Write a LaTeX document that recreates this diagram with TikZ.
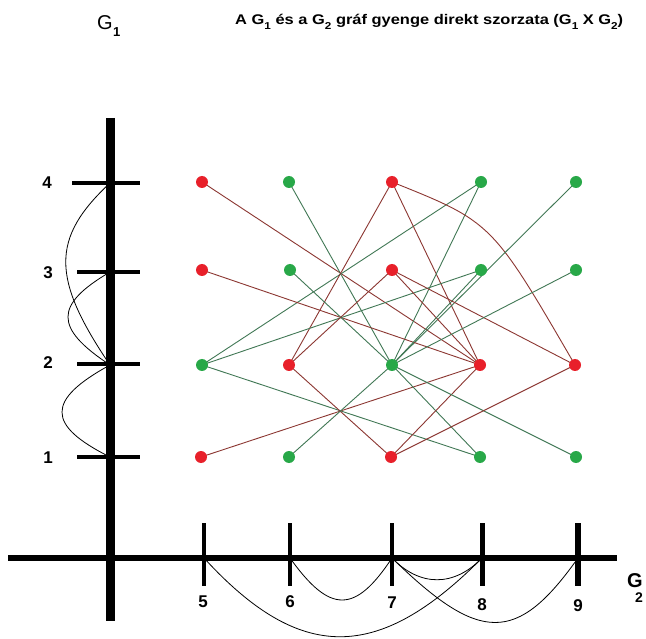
\documentclass[tikz,border=0pt]{standalone}
\usepackage{fontspec}
\setmainfont{Liberation Sans}
\usetikzlibrary{backgrounds}
\definecolor{dotred}{RGB}{232,32,42}
\definecolor{dotgreen}{RGB}{40,168,72}
\definecolor{edgered}{RGB}{140,55,50}
\definecolor{edgegreen}{RGB}{65,120,85}
\newcommand\tsub[1]{\raisebox{-5pt}{\fontsize{10}{10}\selectfont #1}}
\begin{document}
\begin{tikzpicture}[x=1pt,y=-1pt,
  rdot/.style={circle,fill=dotred,inner sep=0pt,minimum size=12pt},
  gdot/.style={circle,fill=dotgreen,inner sep=0pt,minimum size=12pt},
  redge/.style={draw=edgered,line width=0.9pt},
  gedge/.style={draw=edgegreen,line width=0.9pt},
  gcurve/.style={draw=black,line width=0.8pt},
  axisv/.style={draw=black,line width=9pt},
  axish/.style={draw=black,line width=6pt},
  tick/.style={draw=black,line width=4.5pt},
  numlab/.style={font=\fontsize{17}{17}\selectfont\bfseries,inner sep=0pt}
]
\useasboundingbox (0,0) rectangle (646,639);
\begin{pgfonlayer}{background}
\fill[white] (0,0) rectangle (646,639);
\end{pgfonlayer}

% axis vertices
\coordinate (v4) at (110,183);
\coordinate (v3) at (110,272);
\coordinate (v2) at (110,365);
\coordinate (v1) at (110,457);
\coordinate (h5) at (204,558);
\coordinate (h6) at (290,558);
\coordinate (h7) at (392,558);
\coordinate (h8) at (482,558);
\coordinate (h9) at (578,558);

% G1 edges
\draw[gcurve] (v4) .. controls (51,238) and (51,278) .. (v2);
\draw[gcurve] (v3) .. controls (54,305) and (54,328) .. (v2);
\draw[gcurve] (v2) .. controls (46,400) and (46,425) .. (v1);
% G2 edges
\draw[gcurve] (h5) .. controls (300,663) and (378,663) .. (h8);
\draw[gcurve] (h6) .. controls (330,614) and (355,614) .. (h7);
\draw[gcurve] (h7) .. controls (420,587) and (454,587) .. (h8);
\draw[gcurve] (h7) .. controls (480,644) and (517,644) .. (h9);

% axes
\coordinate (vtop) at (110,118);
\coordinate (vbot) at (110,621);
\coordinate (hl) at (8,558);
\coordinate (hr) at (617,558);
\draw[axisv] (vtop) -- (vbot);
\draw[axish] (hl) -- (hr);
\draw[tick] (72,183) -- (140,183);
\draw[tick] (77,272) -- (140,272);
\draw[tick] (77,364) -- (140,364);
\draw[tick] (77,457) -- (140,457);
\draw[tick] (204,523) -- (204,586);
\draw[tick] (290,523) -- (290,586);
\draw[tick] (392,523) -- (392,586);
\draw[tick,line width=5pt] (482,523) -- (482,586);
\draw[tick,line width=6.5pt] (578,523) -- (578,586);

% axis labels
\node[numlab] (l4) at (47,183) {4};
\node[numlab] (l3) at (48,273) {3};
\node[numlab] (l2) at (48,363) {2};
\node[numlab] (l1) at (48,458) {1};
\node[numlab] (l5) at (203,602) {5};
\node[numlab] (l6) at (290,602) {6};
\node[numlab] (l7) at (392,603) {7};
\node[numlab] (l8) at (482,605) {8};
\node[numlab] (l9) at (578,606) {9};

% graph labels
\node[anchor=base west,inner sep=0pt,font=\fontsize{20}{20}\selectfont] (g1) at (97,30) {G};
\node[anchor=base west,inner sep=0pt,font=\fontsize{13}{13}\selectfont\bfseries] (g1s) at (113,37) {1};
\node[anchor=base west,inner sep=0pt,font=\fontsize{20}{20}\selectfont\bfseries] (g2) at (627,587) {G};
\node[anchor=base west,inner sep=0pt,font=\fontsize{14}{14}\selectfont\bfseries] (g2s) at (635,602) {2};

% title
\node[anchor=base west,inner sep=0pt,font=\fontsize{14}{14}\selectfont\bfseries] (title) at (235,25)
  {\resizebox{388pt}{\height}{A G\tsub{1} és a G\tsub{2} gráf gyenge direkt szorzata (G\tsub{1} X G\tsub{2})}};

% product vertices
\node[rdot] (p45) at (202,182) {};
\node[gdot] (p46) at (289,182) {};
\node[rdot] (p47) at (392,182) {};
\node[gdot] (p48) at (481,182) {};
\node[gdot] (p49) at (576,182) {};
\node[rdot] (p35) at (202,270) {};
\node[gdot] (p36) at (290,270) {};
\node[rdot] (p37) at (392,270) {};
\node[gdot] (p38) at (481,270) {};
\node[gdot] (p39) at (576,270) {};
\node[gdot] (p25) at (202,365) {};
\node[rdot] (p26) at (289,365) {};
\node[gdot] (p27) at (392,365) {};
\node[rdot] (p28) at (480,365) {};
\node[rdot] (p29) at (575,365) {};
\node[rdot] (p15) at (201,457) {};
\node[gdot] (p16) at (289,457) {};
\node[rdot] (p17) at (391,457) {};
\node[gdot] (p18) at (480,457) {};
\node[gdot] (p19) at (576,457) {};

\begin{pgfonlayer}{background}
% 4-2
\draw[redge] (p45.center) -- (p28.center);
\draw[gedge] (p48.center) -- (p25.center);
\draw[gedge] (p46.center) -- (p27.center);
\draw[redge] (p47.center) -- (p26.center);
\draw[redge] (p47.center) -- (p28.center);
\draw[gedge] (p48.center) -- (p27.center);
\draw[redge] (p47.center) .. controls (492,222) .. (p29.center);
\draw[gedge] (p49.center) -- (p27.center);
% 3-2
\draw[redge] (p35.center) -- (p28.center);
\draw[gedge] (p38.center) -- (p25.center);
\draw[gedge] (p36.center) -- (p27.center);
\draw[redge] (p37.center) -- (p26.center);
\draw[redge] (p37.center) -- (p28.center);
\draw[gedge] (p38.center) -- (p27.center);
\draw[redge] (p37.center) -- (p29.center);
\draw[gedge] (p39.center) -- (p27.center);
% 2-1
\draw[gedge] (p25.center) -- (p18.center);
\draw[redge] (p28.center) -- (p15.center);
\draw[redge] (p26.center) -- (p17.center);
\draw[gedge] (p27.center) -- (p16.center);
\draw[gedge] (p27.center) -- (p18.center);
\draw[redge] (p28.center) -- (p17.center);
\draw[gedge] (p27.center) -- (p19.center);
\draw[redge] (p29.center) -- (p17.center);
\end{pgfonlayer}
\end{tikzpicture}
\end{document}
